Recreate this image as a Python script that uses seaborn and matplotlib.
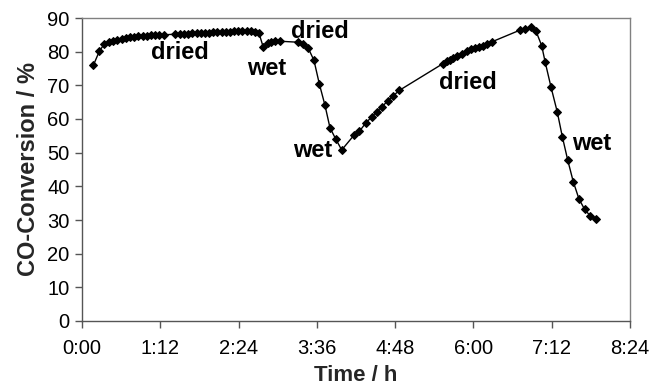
import matplotlib
matplotlib.use("Agg")
import matplotlib.pyplot as plt
import seaborn as sns
import pandas as pd

# time in hours
time_h = [0.173, 0.265, 0.342, 0.418, 0.480, 0.541, 0.608, 0.670, 0.736, 0.797,
          0.863, 0.930, 0.992, 1.053, 1.119, 1.180, 1.261,
          1.426, 1.502, 1.563, 1.629, 1.691, 1.758, 1.819, 1.885, 1.947, 2.013,
          2.074, 2.141, 2.203, 2.269, 2.330, 2.396, 2.457, 2.524, 2.586, 2.652, 2.713,
          2.779, 2.846, 2.892, 2.958, 3.035,
          3.315, 3.383, 3.469, 3.556, 3.637, 3.724, 3.801, 3.888, 3.981,
          4.174, 4.251, 4.349, 4.441, 4.517, 4.603, 4.686, 4.772, 4.864,
          5.529, 5.590, 5.641, 5.691, 5.753, 5.820, 5.897, 5.958, 6.024, 6.090,
          6.151, 6.213, 6.280,
          6.714, 6.790, 6.882, 6.959, 7.046, 7.101, 7.189, 7.285, 7.362, 7.444,
          7.530, 7.617, 7.703, 7.791, 7.883]
conversion = [75.9, 80.1, 82.3, 82.8, 83.2, 83.5, 83.8, 84.0, 84.3, 84.4,
              84.6, 84.7, 84.8, 84.9, 85.0, 85.0, 85.0,
              85.2, 85.2, 85.3, 85.3, 85.4, 85.5, 85.5, 85.5, 85.6, 85.7,
              85.8, 85.8, 85.9, 85.9, 86.0, 86.0, 86.0, 86.0, 86.0, 85.9, 85.5,
              81.3, 82.6, 83.0, 83.1, 83.1,
              82.8, 82.3, 81.0, 77.4, 70.5, 64.1, 57.4, 54.1, 50.8,
              55.3, 56.3, 58.8, 60.6, 62.2, 63.7, 65.4, 66.9, 68.5,
              76.4, 77.1, 77.6, 78.1, 78.6, 79.3, 80.1, 80.8, 81.1, 81.4,
              81.6, 82.3, 82.9,
              86.4, 86.7, 87.2, 86.1, 81.8, 76.8, 69.5, 62.1, 54.8, 47.9,
              41.4, 36.3, 33.2, 31.2, 30.2]

x_tick_pos = [0, 1.2, 2.4, 3.6, 4.8, 6.0, 7.2, 8.4]
x_tick_labels = ["0:00", "1:12", "2:24", "3:36", "4:48", "6:00", "7:12", "8:24"]
y_ticks = [0, 10, 20, 30, 40, 50, 60, 70, 80, 90]

ann_text = ["dried", "wet", "dried", "wet", "dried", "wet"]
ann_x = [1.50, 2.826, 3.64, 3.541, 5.917, 7.817]
ann_y = [79.7, 74.9, 85.9, 50.5, 70.8, 52.6]

sns.set_theme(style="white")
plt.rcParams["font.family"] = ["Liberation Sans", "DejaVu Sans"]

fig = plt.figure(figsize=(6.52, 3.91), dpi=100)
ax = fig.add_axes([82/652, 1 - 321/391, (630 - 82)/652, (321 - 18)/391])

df = pd.DataFrame({"t": time_h, "c": conversion})
sns.lineplot(data=df, x="t", y="c", ax=ax, color="black", linewidth=1.0,
             marker="D", markersize=3.6, markeredgecolor="black",
             markerfacecolor="black", estimator=None, sort=False)

ax.set_xlim(0, 8.4)
ax.set_ylim(0, 90)
ax.set_xticks(x_tick_pos)
ax.set_xticklabels(x_tick_labels)
ax.set_yticks(y_ticks)
ax.tick_params(axis="both", which="major", direction="out", length=5, width=1,
               labelsize=14.5, labelcolor="black", bottom=True, left=True, pad=4)
ax.tick_params(axis="x", pad=8)
ax.tick_params(axis="x", color="#555555")
ax.tick_params(axis="y", color="#555555")

for s in ["top", "right"]:
    ax.spines[s].set_color("#808080")
    ax.spines[s].set_linewidth(1.0)
for s in ["left", "bottom"]:
    ax.spines[s].set_color("#555555")
    ax.spines[s].set_linewidth(1.0)

ax.set_xlabel("Time / h", fontsize=16, fontweight="bold", labelpad=5)
ax.set_ylabel("CO-Conversion / %", fontsize=17, fontweight="bold", labelpad=5)

for txt, xx, yy in zip(ann_text, ann_x, ann_y):
    ax.text(xx, yy, txt, fontsize=17, fontweight="bold", ha="center", va="center",
            color="black")

fig.savefig("out.png", dpi=100)
